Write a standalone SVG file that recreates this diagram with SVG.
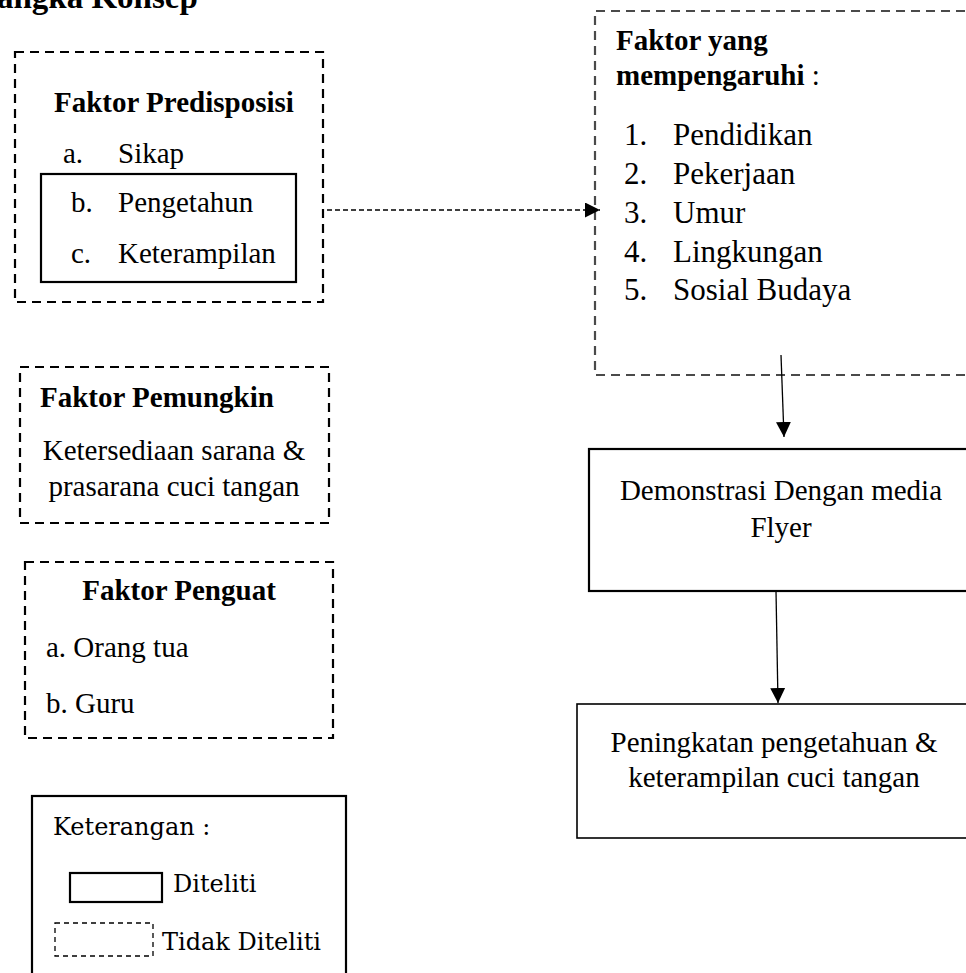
<svg xmlns="http://www.w3.org/2000/svg" width="966" height="973" viewBox="0 0 966 973">
<style>
text{font-family:"Liberation Serif","Times New Roman",serif;font-size:29px;fill:#000}
.b{font-weight:bold}
.c{text-anchor:middle}
.li{font-size:31px}
.dash{fill:none;stroke:#000;stroke-width:2.2;stroke-dasharray:9 6}
.dashg{fill:none;stroke:#4a4a4a;stroke-width:2.2;stroke-dasharray:9 6}
.solid{fill:none;stroke:#000;stroke-width:2.2}
.conn{fill:none;stroke:#000;stroke-width:1.3}
.leg{font-family:"DejaVu Serif",Cambria,serif;font-size:24px}
</style>
<defs>
<marker id="ah2" markerWidth="15" markerHeight="15" refX="15" refY="7.5" orient="auto" markerUnits="userSpaceOnUse" viewBox="0 0 15 15">
<path d="M0,0 L15,7.5 L0,15 Z" fill="#000"/>
</marker>
</defs>
<rect width="966" height="973" fill="#fff"/>
<text class="b" x="-3" y="8" style="font-size:33px">angka Konsep</text>

<g id="predisposisi">
<rect class="dash" x="15" y="52" width="308" height="250"/>
<text class="b" x="54" y="112">Faktor Predisposisi</text>
<text x="63" y="163">a.</text><text x="118" y="163">Sikap</text>
<rect class="solid" x="41" y="174" width="255" height="108"/>
<text x="71" y="212">b.</text><text x="118" y="212">Pengetahun</text>
<text x="71" y="263">c.</text><text x="118" y="263">Keterampilan</text>
</g>

<g id="pemungkin">
<rect class="dash" x="20" y="367" width="309" height="156"/>
<text class="b" x="40" y="407">Faktor Pemungkin</text>
<text class="c" x="174" y="460">Ketersediaan sarana &amp;</text>
<text class="c" x="174" y="496">prasarana cuci tangan</text>
</g>

<g id="penguat">
<rect class="dash" x="25" y="562" width="308" height="176"/>
<text class="b c" x="179" y="600">Faktor Penguat</text>
<text x="46" y="657">a. Orang tua</text>
<text x="46" y="713">b. Guru</text>
</g>

<g id="mempengaruhi">
<path class="dashg" d="M980,11 H595 V375 H980"/>
<text class="b" x="616" y="50">Faktor yang</text>
<text x="616" y="85"><tspan class="b">mempengaruhi</tspan> :</text>
<text class="li" x="624" y="145">1.</text><text class="li" x="673" y="145">Pendidikan</text>
<text class="li" x="624" y="184">2.</text><text class="li" x="673" y="184">Pekerjaan</text>
<text class="li" x="624" y="223">3.</text><text class="li" x="673" y="223">Umur</text>
<text class="li" x="624" y="262">4.</text><text class="li" x="673" y="262">Lingkungan</text>
<text class="li" x="624" y="300">5.</text><text class="li" x="673" y="300">Sosial Budaya</text>
</g>

<g id="demonstrasi">
<rect class="solid" x="589" y="449" width="400" height="142"/>
<text class="c" x="781" y="500">Demonstrasi Dengan media</text>
<text class="c" x="781" y="537">Flyer</text>
</g>

<g id="peningkatan">
<rect x="577" y="704" width="410" height="134" fill="none" stroke="#000" stroke-width="1.6"/>
<text class="c" x="774" y="752">Peningkatan pengetahuan &amp;</text>
<text class="c" x="774" y="787">keterampilan cuci tangan</text>
</g>

<g id="keterangan">
<rect class="solid" x="32" y="796" width="314" height="200"/>
<text class="leg" x="53" y="835">Keterangan :</text>
<rect class="solid" x="70" y="873" width="92" height="29"/>
<text class="leg" x="173" y="892">Diteliti</text>
<rect x="55" y="923" width="98" height="33" fill="none" stroke="#000" stroke-width="1.3" stroke-dasharray="5 4"/>
<text class="leg" x="162" y="950">Tidak Diteliti</text>
</g>

<g id="connectors">
<line class="conn" x1="327" y1="210" x2="600" y2="210" stroke-dasharray="5 3" marker-end="url(#ah2)"/>
<line class="conn" x1="781" y1="355" x2="784" y2="437" marker-end="url(#ah2)"/>
<line class="conn" x1="776" y1="591" x2="778" y2="703" marker-end="url(#ah2)"/>
</g>
</svg>
